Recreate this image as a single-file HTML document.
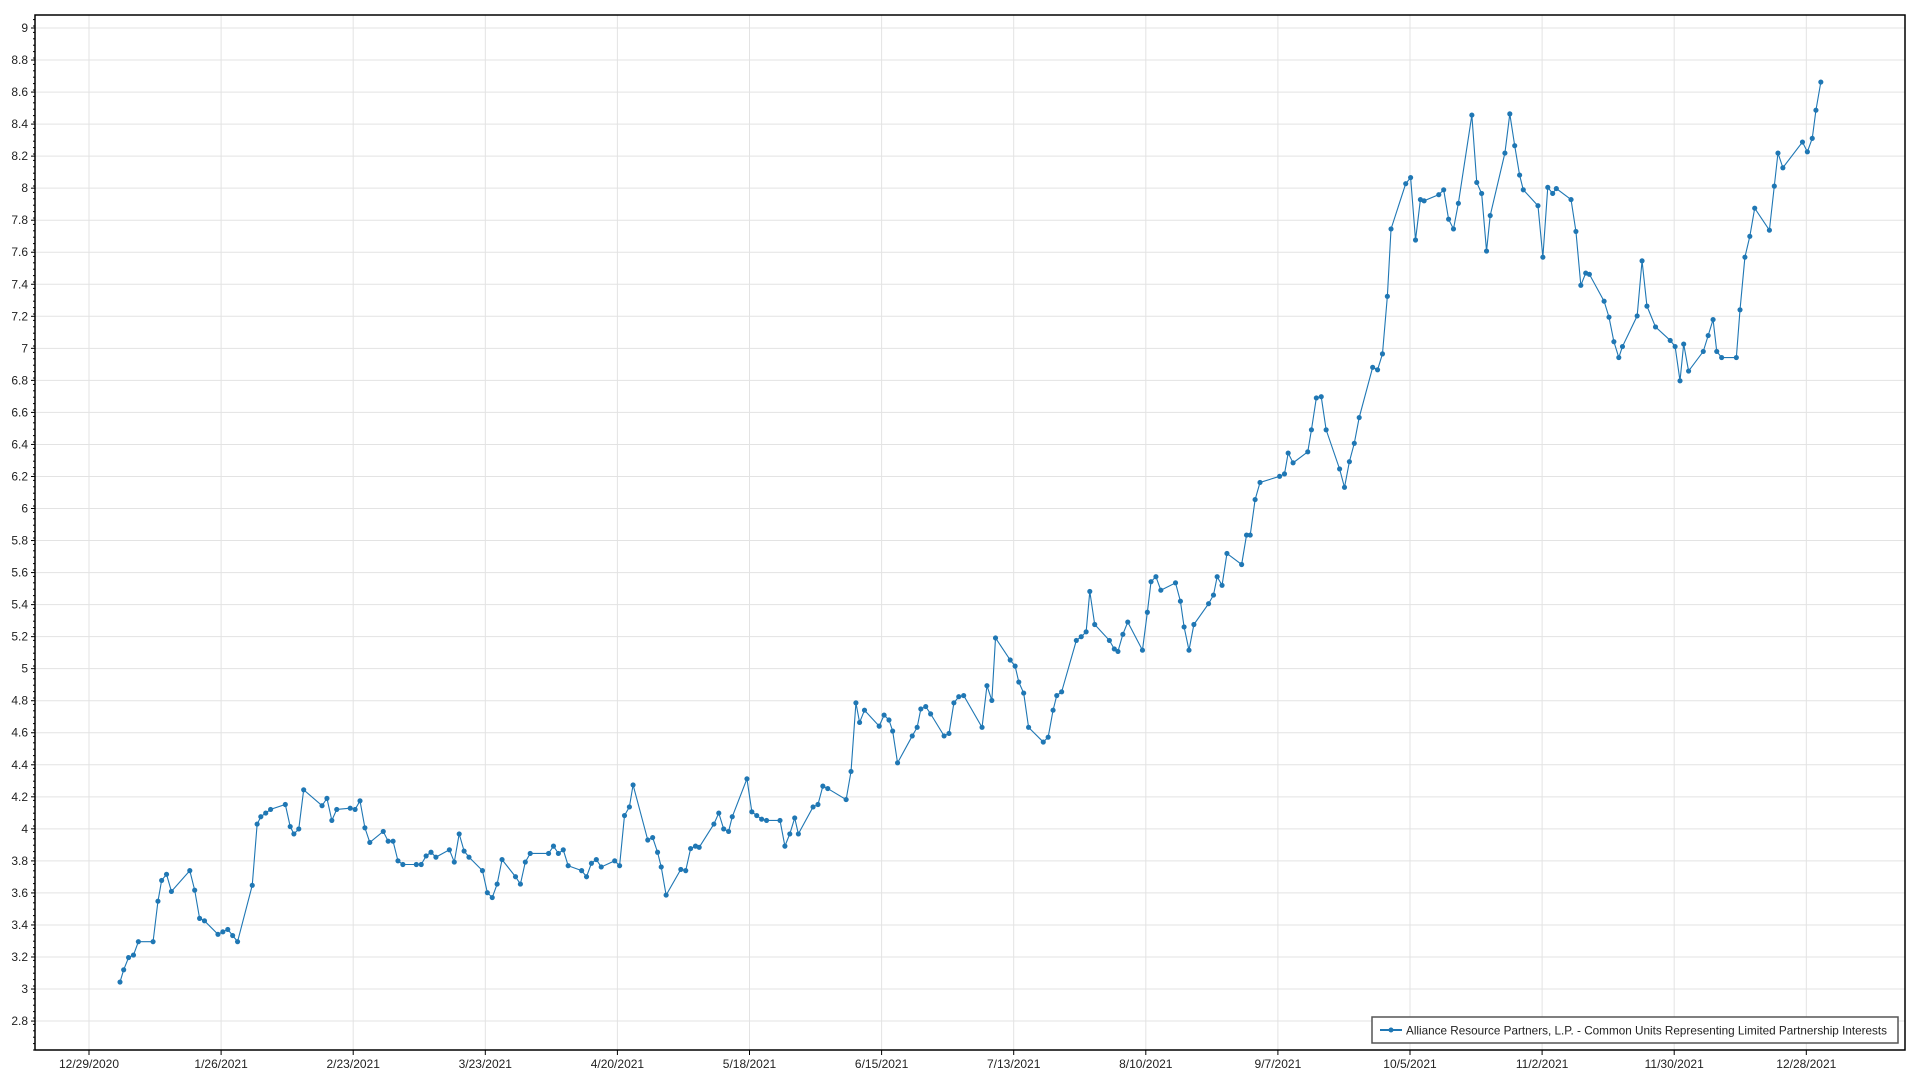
<!DOCTYPE html>
<html><head><meta charset="utf-8"><style>
html,body{margin:0;padding:0;background:#fff;}
svg{display:block;font-family:"Liberation Sans",sans-serif;}
</style></head><body>
<svg id="c" width="1920" height="1080" xmlns="http://www.w3.org/2000/svg">
<rect width="1920" height="1080" fill="#fff"/>
<g id="grid"></g>
<rect x="35" y="15" width="1870" height="1035" fill="none" stroke="#000" stroke-width="1.5"/>
<g id="axes"></g>
<g transform="scale(1.2245)">
<polyline id="line" fill="none" stroke="#1f77b4" stroke-width="0.9"/>
<g id="pts" fill="#1f77b4"></g>
</g>
<rect x="1372" y="1017" width="526" height="26" fill="#fff" stroke="#555" stroke-width="1.5"/>
<line x1="1380" y1="1030" x2="1402" y2="1030" stroke="#1f77b4" stroke-width="2"/>
<circle cx="1391" cy="1030" r="2.5" fill="#1f77b4"/>
<text x="1406" y="1034.5" font-size="12" fill="#222" textLength="481" lengthAdjust="spacingAndGlyphs">Alliance Resource Partners, L.P. - Common Units Representing Limited Partnership Interests</text>
</svg>
<script>
var NS="http://www.w3.org/2000/svg";
function el(n,a,p,t){var e=document.createElementNS(NS,n);for(var k in a)e.setAttribute(k,a[k]);if(t)e.textContent=t;document.getElementById(p).appendChild(e);return e;}
function Y(v){return 28+(9-v)*160.17;}
for(var i=0;i<=31;i++){var v=2.8+i*0.2;var y=Y(v);
 el("line",{x1:35,x2:1905,y1:y,y2:y,stroke:"#e3e3e3","stroke-width":1},"grid");
 el("line",{x1:31,x2:35,y1:y,y2:y,stroke:"#000","stroke-width":1},"axes");
 var s=(Math.round(v*10)/10).toString();
 el("text",{x:28,y:y+4,"font-size":12,"text-anchor":"end",fill:"#222"},"axes",s);
}
for(var y=1050;y>=15;y-=6.4){el("line",{x1:33,x2:35,y1:y,y2:y,stroke:"#000","stroke-width":1},"axes");}
var labs=["12/29/2020","1/26/2021","2/23/2021","3/23/2021","4/20/2021","5/18/2021","6/15/2021","7/13/2021","8/10/2021","9/7/2021","10/5/2021","11/2/2021","11/30/2021","12/28/2021"];
for(var i=0;i<labs.length;i++){var x=89+i*132.1;
 el("line",{x1:x,x2:x,y1:15,y2:1050,stroke:"#e3e3e3","stroke-width":1},"grid");
 el("line",{x1:x,x2:x,y1:1050,y2:1055,stroke:"#000","stroke-width":1},"axes");
 el("text",{x:x,y:1068,"font-size":12,"text-anchor":"middle",fill:"#222"},"axes",labs[i]);
}
var P=[[98,802],[101,792],[105,782],[109,780],[113,769],[125,769],[129,736],[132,719],[136,714],[140,728],[155,711],[159,727],[163,750],[167,752],[178,763],[182,761],[186,759],[190,764],[194,769],[206,723],[210,673],[213,667],[217,664],[221,661],[233,657],[237,675],[240,681],[244,677],[248,645],[263,658],[267,652],[271,670],[275,661],[286,660],[290,661],[294,654],[298,676],[302,688],[313,679],[317,687],[321,687],[325,703],[329,706],[340,706],[344,706],[348,699],[352,696],[356,700],[367,694],[371,704],[375,681],[379,695],[383,700],[394,711],[398,729],[402,733],[406,722],[410,702],[421,716],[425,722],[429,704],[433,697],[448,697],[452,691],[456,697],[460,694],[464,707],[475,711],[479,716],[483,705],[487,702],[491,708],[502,703],[506,707],[510,666],[514,659],[517,641],[529,686],[533,684],[537,696],[540,708],[544,731],[556,710],[560,711],[564,693],[568,691],[571,692],[583,673],[587,664],[591,677],[595,679],[598,667],[610,636],[614,663],[618,666],[622,669],[626,670],[637,670],[641,691],[645,681],[649,668],[652,681],[664,659],[668,657],[672,642],[676,644],[691,653],[695,630],[699,574],[702,590],[706,580],[718,593],[722,584],[726,588],[729,597],[733,623],[745,601],[749,594],[752,579],[756,577],[760,583],[771,601],[775,599],[779,574],[783,569],[787,568],[802,594],[806,560],[810,572],[813,521],[825,539],[829,544],[832,557],[836,566],[840,594],[852,606],[856,602],[860,580],[863,568],[867,565],[879,523],[883,520],[887,516],[890,483],[894,510],[906,523],[910,530],[913,532],[917,518],[921,508],[933,531],[937,500],[940,475],[944,471],[948,482],[960,476],[964,491],[967,512],[971,531],[975,510],[987,493],[991,486],[994,471],[998,478],[1002,452],[1014,461],[1018,437],[1021,437],[1025,408],[1029,394],[1045,389],[1049,387],[1052,370],[1056,378],[1068,369],[1071,351],[1075,325],[1079,324],[1083,351],[1094,383],[1098,398],[1102,377],[1106,362],[1110,341],[1121,300],[1125,302],[1129,289],[1133,242],[1136,187],[1148,150],[1152,145],[1156,196],[1160,163],[1163,164],[1175,159],[1179,155],[1183,179],[1187,187],[1191,166],[1202,94],[1206,149],[1210,158],[1214,205],[1217,176],[1229,125],[1233,93],[1237,119],[1241,143],[1244,155],[1256,168],[1260,210],[1264,153],[1268,158],[1271,154],[1283,163],[1287,189],[1291,233],[1295,223],[1298,224],[1310,246],[1314,259],[1318,279],[1322,292],[1325,283],[1337,258],[1341,213],[1345,250],[1352,267],[1364,278],[1368,283],[1372,311],[1375,281],[1379,303],[1391,287],[1395,274],[1399,261],[1402,287],[1406,292],[1418,292],[1421,253],[1425,210],[1429,193],[1433,170],[1445,188],[1449,152],[1452,125],[1456,137],[1472,116],[1476,124],[1480,113],[1483,90],[1487,67]];
document.getElementById("line").setAttribute("points",P.map(function(p){return p.join(",");}).join(" "));
P.forEach(function(p){el("circle",{cx:p[0],cy:p[1],r:2.1},"pts");});
</script>
</body></html>
